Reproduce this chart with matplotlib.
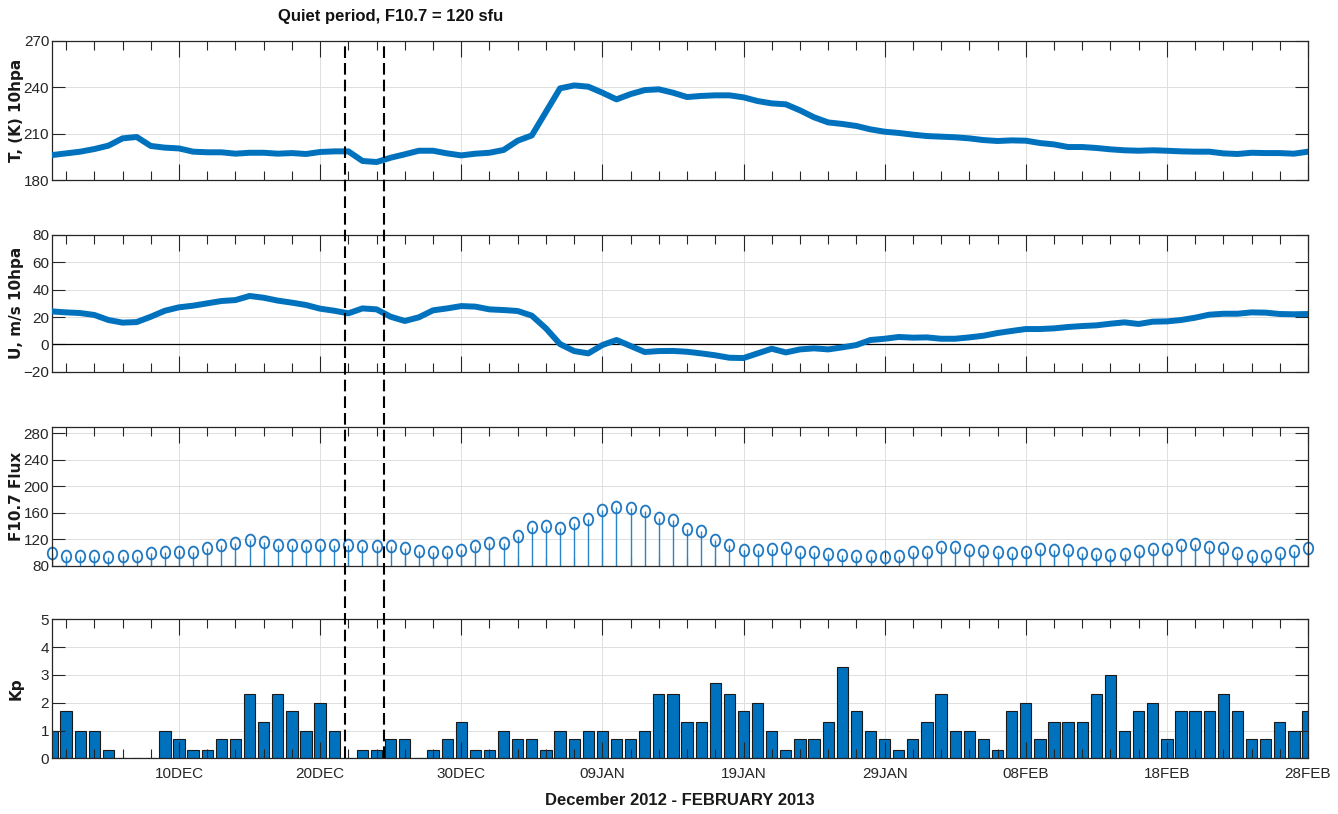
import matplotlib
matplotlib.use("Agg")
import matplotlib.pyplot as plt
import matplotlib.dates as mdates
from matplotlib import font_manager
from matplotlib.lines import Line2D
from matplotlib.markers import MarkerStyle
from matplotlib.transforms import Affine2D
import numpy as np
import pandas as pd

# daily series, 1 Dec 2012 - 28 Feb 2013
days = pd.date_range("2012-12-01", "2013-02-28", freq="D")

temp_10hpa = [196.1, 197.2, 198.3, 200.0, 202.2, 206.9, 207.8, 202.0, 200.9, 200.4,
              198.3, 197.9, 197.9, 197.0, 197.6, 197.6, 197.0, 197.4, 196.8, 198.1,
              198.5, 198.5, 192.3, 191.6, 194.4, 196.6, 198.9, 198.9, 197.2, 195.9,
              197.0, 197.6, 199.4, 205.4, 208.8, 224.0, 239.2, 241.1, 240.3, 236.4,
              232.1, 235.5, 238.1, 238.6, 236.4, 233.6, 234.3, 234.7, 234.7, 233.4,
              231.0, 229.5, 228.9, 225.0, 220.5, 217.2, 216.2, 214.9, 212.7, 211.2,
              210.4, 209.3, 208.4, 208.0, 207.6, 206.9, 205.8, 205.2, 205.6, 205.4,
              203.9, 203.0, 201.3, 201.3, 200.7, 199.8, 199.2, 198.9, 199.2, 198.9,
              198.5, 198.3, 198.3, 197.2, 196.8, 197.6, 197.4, 197.4, 197.0, 198.3]

wind_10hpa = [24.1, 23.4, 22.9, 21.5, 17.8, 15.9, 16.3, 20.2, 24.6, 27.1,
              28.3, 30.0, 31.7, 32.4, 35.4, 34.1, 32.0, 30.5, 28.8, 26.1,
              24.6, 22.7, 26.3, 25.6, 20.2, 17.1, 19.8, 24.9, 26.3, 28.0,
              27.6, 25.6, 25.1, 24.4, 21.0, 11.7, 0.2, -4.9, -6.6, -0.5,
              3.2, -1.2, -5.6, -4.9, -4.8, -5.4, -6.6, -8.0, -9.8, -10.0,
              -6.6, -3.2, -5.9, -3.7, -2.9, -3.7, -2.2, -0.5, 3.2, 4.1,
              5.4, 4.9, 5.1, 4.1, 4.1, 5.1, 6.3, 8.3, 9.8, 11.2,
              11.2, 11.7, 12.7, 13.4, 13.9, 15.1, 16.1, 14.9, 16.6, 16.8,
              17.8, 19.5, 21.7, 22.4, 22.4, 23.4, 23.2, 22.2, 22.0, 22.2]

f107_flux = [99, 95, 94, 94, 93, 95, 95, 99, 100, 101,
             100, 107, 112, 115, 119, 116, 111, 112, 110, 111,
             111, 112, 110, 110, 110, 106, 102, 101, 100, 103,
             110, 114, 115, 125, 138, 140, 137, 145, 151, 164,
             168, 167, 163, 152, 149, 135, 132, 119, 111, 104,
             103, 105, 107, 101, 100, 97, 96, 95, 95, 93,
             94, 100, 101, 109, 109, 104, 102, 100, 99, 101,
             105, 104, 104, 99, 97, 96, 97, 102, 105, 105,
             111, 113, 108, 107, 99, 95, 95, 99, 102, 106]

kp_index = [1.0, 1.7, 1.0, 1.0, 0.3, 0.0, 0.0, 0.0, 1.0, 0.7,
            0.3, 0.3, 0.7, 0.7, 2.3, 1.3, 2.3, 1.7, 1.0, 2.0,
            1.0, 0.0, 0.3, 0.3, 0.7, 0.7, 0.0, 0.3, 0.7, 1.3,
            0.3, 0.3, 1.0, 0.7, 0.7, 0.3, 1.0, 0.7, 1.0, 1.0,
            0.7, 0.7, 1.0, 2.3, 2.3, 1.3, 1.3, 2.7, 2.3, 1.7,
            2.0, 1.0, 0.3, 0.7, 0.7, 1.3, 3.3, 1.7, 1.0, 0.7,
            0.3, 0.7, 1.3, 2.3, 1.0, 1.0, 0.7, 0.3, 1.7, 2.0,
            0.7, 1.3, 1.3, 1.3, 2.3, 3.0, 1.0, 1.7, 2.0, 0.7,
            1.7, 1.7, 1.7, 2.3, 1.7, 0.7, 0.7, 1.3, 1.0, 1.7]

# quiet window marked by the dashed lines
quiet_bounds = ["2012-12-21 18:00", "2012-12-24 12:00"]

tick_dates = pd.date_range("2012-12-10", "2013-02-28", freq="10D")
minor_dates = pd.date_range("2012-12-02", "2013-02-28", freq="2D")

blue = "#0072BD"
axcol = "#262626"
gridcol = "#dedede"

names = {f.name for f in font_manager.fontManager.ttflist}
narrow = "Liberation Sans Narrow" if "Liberation Sans Narrow" in names else "Liberation Sans"

x = mdates.date2num(days)
xt = mdates.date2num(tick_dates)
xm = mdates.date2num(minor_dates)

fig = plt.figure(figsize=(13.38, 8.14), dpi=100)
W, H = 1338.0, 814.0
left, width = 52 / W, 1256 / W
rows = [(40.7, 180.0), (235.0, 371.7), (426.7, 565.7), (619.3, 758.3)]
axes = [fig.add_axes([left, 1 - b / H, width, (b - t) / H]) for t, b in rows]
ax_t, ax_u, ax_f, ax_k = axes

ylims = [(180, 270), (-20, 80), (80, 290), (0, 5)]
yticks = [np.arange(180, 271, 30), np.arange(-20, 81, 20), np.arange(80, 281, 40), np.arange(0, 6, 1)]
ylabels = ["T, (K) 10hpa", "U, m/s 10hpa", "F10.7 Flux", "Kp"]

for ax, yl, yt, lab in zip(axes, ylims, yticks, ylabels):
    ax.set_xlim(x[0], x[-1])
    ax.set_ylim(*yl)
    ax.set_xticks(xt)
    ax.set_xticks(xm, minor=True)
    ax.set_yticks(yt)
    # grid under the data, ticks over it
    for v in xt:
        ax.axvline(v, color=gridcol, lw=0.7, zorder=0)
    for v in yt:
        ax.axhline(v, color=gridcol, lw=0.7, zorder=0)
    ax.tick_params(axis="x", which="major", direction="in", length=11.3, width=0.8,
                   top=True, bottom=True, color=axcol, labelbottom=False, pad=6)
    ax.tick_params(axis="x", which="minor", direction="in", length=6.5, width=0.8,
                   top=True, bottom=True, color=axcol)
    ax.tick_params(axis="y", direction="in", length=9.1, width=0.8, left=True, right=True,
                   color=axcol, labelcolor=axcol, pad=2, labelsize=11)
    for lbl in ax.get_yticklabels():
        lbl.set_fontfamily(narrow)
    for s in ax.spines.values():
        s.set_color(axcol)
        s.set_linewidth(0.9)
    ax.set_ylabel(lab, fontsize=11, fontweight="bold", family="DejaVu Sans", color="#1a1a1a")
    ax.yaxis.set_label_coords(-28 / 1256, 0.5)

# temperature and zonal wind
ax_t.plot(x, temp_10hpa, color=blue, lw=4.3, solid_joinstyle="round", zorder=3)
ax_u.plot(x, wind_10hpa, color=blue, lw=4.3, solid_joinstyle="round", zorder=3)
ax_u.axhline(0, color="k", lw=0.9, zorder=2)

# solar flux stems
mk = MarkerStyle("o", fillstyle="none", transform=Affine2D().scale(0.8, 1.0))
markerline, stemlines, baseline = ax_f.stem(x, f107_flux, bottom=80)
stemlines.set_color("#2b84c6")
stemlines.set_linewidth(1.0)
markerline.set_marker(mk)
markerline.set_markersize(8.5)
markerline.set_markeredgecolor("#1f78c1")
markerline.set_markeredgewidth(1.3)
markerline.set_clip_on(False)
baseline.set_visible(False)

# geomagnetic index
ax_k.bar(x, kp_index, width=0.8, color=blue, edgecolor="#1a1a1a", linewidth=0.8, zorder=1)

ax_k.tick_params(axis="x", which="major", labelbottom=True, labelcolor=axcol, labelsize=11)
ax_k.xaxis.set_major_formatter(
    plt.FuncFormatter(lambda v, p: mdates.num2date(v).strftime("%d%b").upper()))
for lbl in ax_k.get_xticklabels():
    lbl.set_fontfamily(narrow)
ax_k.set_xlabel("December 2012 - FEBRUARY 2013", fontsize=12, fontweight="bold",
                family=narrow, color="#1a1a1a", labelpad=9)

# dashed markers across all panels
fig_inv = fig.transFigure.inverted()
y_top = ax_t.get_position().y1
y_bot = ax_k.get_position().y0
for t in quiet_bounds:
    xn = mdates.date2num(pd.Timestamp(t))
    xf = fig_inv.transform(ax_t.transData.transform((xn, 0)))[0]
    fig.add_artist(Line2D([xf, xf], [y_bot, y_top], transform=fig.transFigure,
                          color="k", lw=1.5, linestyle=(0, (5.6, 2.4))))

fig.text(391 / W, 1 - 17 / H, "Quiet period, F10.7 = 120 sfu", ha="center", va="center",
         fontsize=12, fontweight="bold", family=narrow, color="#111111")

fig.savefig("out.png", dpi=100)
